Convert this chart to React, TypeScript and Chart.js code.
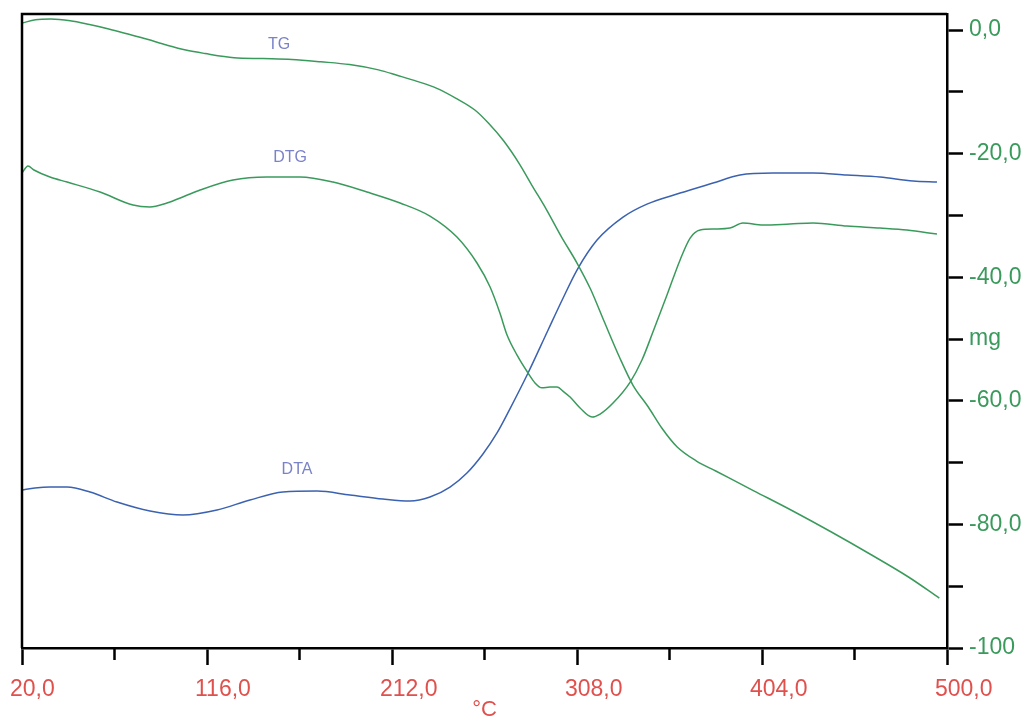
import React, { useEffect, useRef } from 'react';
import { Chart, registerables } from 'chart.js';

Chart.register(...registerables);

// Temperature axis (°C)
const tempMin = 20;
const tempMax = 500;
const tempMajorStep = 96;
const minorTempTicks = [68, 164, 260, 356, 452];

// Mass axis (mg)
const massMin = -100;
const massMax = 2.6;
const massAllTicks = [0, -10, -20, -30, -40, -50, -60, -70, -80, -90, -100];
const massTickValues = [0, -20, -40, -50, -60, -80, -100];
const massTickText = ['0,0', '-20,0', '-40,0', 'mg', '-60,0', '-80,0', '-100'];

// TG curve
const tgTemp = [20, 27, 35, 45, 55, 65, 75, 85, 95, 105, 115, 130, 145, 160, 175, 190, 205, 215, 225, 235, 245, 255, 262, 270, 278, 285, 292, 300, 308, 315, 322, 330, 337, 345, 352, 360, 370, 380, 400, 420, 440, 460, 480, 496];
const tgMass = [1.13, 1.67, 1.78, 1.5, 0.89, 0.18, -0.65, -1.5, -2.43, -3.24, -3.8, -4.47, -4.61, -4.76, -5.13, -5.58, -6.44, -7.35, -8.3, -9.39, -11.0, -12.94, -15.05, -17.96, -21.6, -25.32, -28.96, -33.5, -37.7, -41.91, -47.09, -52.91, -57.44, -61.0, -64.4, -67.48, -69.74, -71.36, -74.6, -77.83, -81.23, -84.79, -88.51, -91.91];

// DTG curve
const dtgTemp = [20, 23.1, 26.2, 34.5, 43.4, 60.5, 77.6, 86.4, 95.2, 104.6, 112.4, 129.5, 147.1, 164.3, 181.4, 199.0, 216.2, 231.7, 245.7, 256.1, 262.9, 268.0, 271.7, 276.9, 282.6, 286.2, 289.8, 294.0, 297.6, 301.3, 304.4, 309.6, 315.8, 320.0, 326.7, 335.6, 341.7, 347.4, 354.7, 361.5, 366.7, 371.9, 379.6, 387.4, 394.1, 404.5, 418.5, 430.5, 448.1, 465.2, 479.2, 494.8];
const dtgValue = [-23.14, -22.0, -22.65, -23.79, -24.6, -26.21, -28.32, -28.64, -27.99, -26.86, -25.89, -24.27, -23.79, -23.79, -24.6, -26.21, -27.99, -30.1, -33.5, -37.7, -41.59, -45.79, -49.35, -52.6, -55.5, -57.1, -57.9, -57.77, -57.77, -58.58, -59.39, -61.17, -62.62, -62.14, -60.36, -56.96, -53.4, -48.87, -42.88, -37.2, -33.66, -32.36, -32.2, -32.04, -31.23, -31.55, -31.39, -31.23, -31.72, -32.04, -32.36, -33.01];

// DTA curve
const dtaTemp = [20, 26.7, 34.5, 43.4, 55.3, 69.3, 86.4, 103.5, 121.2, 138.3, 155.4, 173.1, 190.2, 207.3, 221.3, 231.7, 242.1, 250.9, 259.2, 266.5, 273.2, 282.6, 293.0, 300.3, 308.0, 318.4, 331.9, 344.3, 361.5, 378.6, 392.6, 409.7, 430.5, 448.1, 465.2, 482.4, 494.8];
const dtaValue = [-74.43, -74.11, -73.95, -73.95, -74.76, -76.38, -77.83, -78.48, -77.67, -76.05, -74.76, -74.6, -75.24, -75.89, -76.21, -75.57, -73.95, -71.68, -68.6, -65.2, -61.3, -55.5, -48.54, -43.69, -38.83, -33.98, -30.26, -28.16, -26.38, -24.76, -23.46, -23.14, -23.14, -23.46, -23.79, -24.43, -24.6];

// Curve names placed near their curves
const curveLabelText = ['TG', 'DTG', 'DTA'];
const curveLabelTemp = [153.4, 159.1, 162.7];
const curveLabelValue = [-2.4, -20.7, -71.2];

const GREEN = '#3a9a5c';
const BLUE = '#3b62b0';
const RED = '#e0504c';
const LABEL_BLUE = '#7a82c8';
const FONT = "'Liberation Sans', Arial, sans-serif";
const AXIS_W = 2.5;

const toPoints = (xs: number[], ys: number[]) => xs.map((x, i) => ({ x, y: ys[i] }));

const framePlugin = {
  id: 'frame',
  afterDraw(chart: any) {
    const { ctx, chartArea } = chart;
    const xs = chart.scales.x;
    ctx.save();
    ctx.strokeStyle = '#000';
    ctx.lineWidth = AXIS_W;
    ctx.beginPath();
    ctx.moveTo(chartArea.left, chartArea.bottom);
    ctx.lineTo(chartArea.left, chartArea.top);
    ctx.lineTo(chartArea.right, chartArea.top);
    ctx.stroke();
    // minor temperature ticks
    ctx.beginPath();
    minorTempTicks.forEach((t) => {
      const px = xs.getPixelForValue(t);
      ctx.moveTo(px, chartArea.bottom);
      ctx.lineTo(px, chartArea.bottom + 12);
    });
    ctx.stroke();
    ctx.restore();
  },
};

const curveLabelPlugin = {
  id: 'curveLabels',
  afterDatasetsDraw(chart: any) {
    const { ctx } = chart;
    const xs = chart.scales.x;
    const ys = chart.scales.y;
    ctx.save();
    ctx.fillStyle = LABEL_BLUE;
    ctx.font = `16px ${FONT}`;
    ctx.textAlign = 'center';
    ctx.textBaseline = 'middle';
    curveLabelText.forEach((txt, i) => {
      ctx.fillText(txt, xs.getPixelForValue(curveLabelTemp[i]), ys.getPixelForValue(curveLabelValue[i]));
    });
    ctx.restore();
  },
};

const lineStyle = { borderWidth: 1.5, pointRadius: 0, cubicInterpolationMode: 'monotone' as const, fill: false };

export default function App() {
  const ref = useRef<HTMLCanvasElement | null>(null);

  useEffect(() => {
    if (!ref.current) return;
    const chart = new Chart(ref.current, {
      type: 'line',
      data: {
        datasets: [
          { label: 'TG', data: toPoints(tgTemp, tgMass), borderColor: GREEN, ...lineStyle },
          { label: 'DTG', data: toPoints(dtgTemp, dtgValue), borderColor: GREEN, ...lineStyle },
          { label: 'DTA', data: toPoints(dtaTemp, dtaValue), borderColor: BLUE, ...lineStyle },
        ],
      },
      options: {
        animation: false,
        responsive: false,
        maintainAspectRatio: false,
        layout: { padding: { left: 22, top: 14, right: 0, bottom: 0 } },
        plugins: { legend: { display: false }, tooltip: { enabled: false } },
        scales: {
          x: {
            type: 'linear',
            position: 'bottom',
            min: tempMin,
            max: tempMax,
            grid: { display: true, drawOnChartArea: false, drawTicks: true, tickLength: 17, tickColor: '#000', tickWidth: AXIS_W },
            border: { display: true, color: '#000', width: AXIS_W },
            ticks: {
              stepSize: tempMajorStep,
              autoSkip: false,
              maxRotation: 0,
              align: 'start',
              labelOffset: -12,
              padding: 11,
              color: RED,
              font: { family: FONT, size: 23 },
              callback: (v: any) => Number(v).toFixed(1).replace('.', ','),
            },
            title: { display: true, text: '°C', color: RED, font: { family: FONT, size: 22 }, padding: { top: 0, bottom: -5 } },
            afterFit: (s: any) => { s.height = 70; s.paddingLeft = 0; s.paddingRight = 0; },
          },
          y: {
            type: 'linear',
            position: 'right',
            min: massMin,
            max: massMax,
            grid: { display: true, drawOnChartArea: false, drawTicks: true, tickLength: 16, tickColor: '#000', tickWidth: AXIS_W },
            border: { display: true, color: '#000', width: AXIS_W },
            ticks: {
              stepSize: 10,
              autoSkip: false,
              padding: 6,
              color: GREEN,
              font: { family: FONT, size: 23 },
              callback: (v: any) => {
                const idx = massTickValues.indexOf(Math.round(Number(v)));
                return idx >= 0 ? massTickText[idx] : '';
              },
            },
            afterBuildTicks: (s: any) => { s.ticks = massAllTicks.map((value) => ({ value })); },
            afterFit: (s: any) => { s.width = 79; s.paddingTop = 0; s.paddingBottom = 0; },
          },
        },
      },
      plugins: [framePlugin, curveLabelPlugin],
    });
    return () => chart.destroy();
  }, []);

  return (
    <div style={{ position: 'fixed', left: 0, top: 0, width: 1026, height: 718, background: '#fff' }}>
      <canvas ref={ref} width={1026} height={718} style={{ display: 'block' }} />
    </div>
  );
}
